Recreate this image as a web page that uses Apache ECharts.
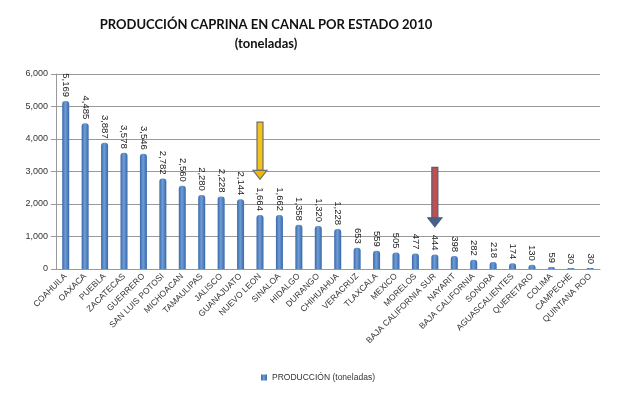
<!DOCTYPE html>
<html><head><meta charset="utf-8">
<script src="https://cdn.jsdelivr.net/npm/echarts@6/dist/echarts.min.js"></script>
<style>html,body{margin:0;padding:0;background:#fff}#c{width:628px;height:394px}</style>
</head><body><div id="c"></div>
<script>
const categories = ["COAHUILA","OAXACA","PUEBLA","ZACATECAS","GUERRERO","SAN LUIS POTOSI","MICHOACAN","TAMAULIPAS","JALISCO","GUANAJUATO","NUEVO LEON","SINALOA","HIDALGO","DURANGO","CHIHUAHUA","VERACRUZ","TLAXCALA","MEXICO","MORELOS","BAJA CALIFORNIA SUR","NAYARIT","BAJA CALIFORNIA","SONORA","AGUASCALIENTES","QUERETARO","COLIMA","CAMPECHE","QUINTANA ROO"];
const produccion = [5169,4485,3887,3578,3546,2782,2560,2280,2228,2144,1664,1662,1358,1320,1228,653,559,505,477,444,398,282,218,174,130,59,30,30];
const yTicks = [0,1000,2000,3000,4000,5000,6000];
// arrows: [category index, top value, tip value]
const arrowYellow = [[10, 4520, 2760]];
const arrowRed = [[19, 3130, 1300]];

const chart = echarts.init(document.getElementById('c'));
function arrowRender(fill, shaftFill, stroke){
  return function(params, api){
    const top = api.coord([api.value(0), api.value(1)]);
    const tip = api.coord([api.value(0), api.value(2)]);
    const x = top[0], y0 = top[1], y1 = tip[1];
    const sw = 3, hw = 7, hl = 9;
    return {type:'group', children:[
      {type:'polygon', shape:{points:[[x-sw,y0],[x+sw,y0],[x+sw,y1-hl],[x-sw,y1-hl]]}, style:{fill:shaftFill, stroke:stroke, lineWidth:1.2}},
      {type:'polygon', shape:{points:[[x-hw,y1-hl],[x+hw,y1-hl],[x,y1]]}, style:{fill:fill, stroke:stroke, lineWidth:1.2}}
    ]};
  };
}
chart.setOption({
  animation:false,
  title:{text:'PRODUCCIÓN CAPRINA EN CANAL POR ESTADO 2010\n(toneladas)', left:261, top:10, textAlign:'center',
    textStyle:{fontFamily:'Lato', fontWeight:'bold', fontSize:13, color:'#111', lineHeight:19}},
  legend:{data:['PRODUCCIÓN (toneladas)'], bottom:7, left:256, itemWidth:6, itemHeight:6, icon:'rect', itemGap:4,
    textStyle:{fontFamily:'Liberation Sans', fontSize:8.5, color:'#333'}},
  grid:{left:56, right:28, top:74, bottom:125},
  xAxis:{type:'category', data:categories,
    axisLine:{lineStyle:{color:'#999'}}, axisTick:{alignWithLabel:false, lineStyle:{color:'#999'}},
    axisLabel:{interval:0, rotate:45, fontSize:8.5, fontFamily:'Liberation Sans', color:'#333', margin:6}},
  yAxis:{type:'value', min:0, max:6000, interval:1000,
    axisLine:{show:true, lineStyle:{color:'#999'}}, axisTick:{show:true, lineStyle:{color:'#999'}},
    splitLine:{lineStyle:{color:'#999', width:1}},
    axisLabel:{fontSize:9, fontFamily:'Liberation Sans', color:'#333', margin:8,
      formatter:v=>v.toLocaleString('en-US')}},
  series:[
    {name:'PRODUCCIÓN (toneladas)', type:'bar', data:produccion, barWidth:7,
      itemStyle:{color:new echarts.graphic.LinearGradient(0,0,1,0,[{offset:0,color:'#3868A8'},{offset:0.45,color:'#6E9DD8'},{offset:1,color:'#3868A8'}]), borderRadius:[3,3,0,0]},
      label:{show:true, position:'top', rotate:-90, align:'right', verticalAlign:'middle', distance:4,
        fontSize:9.5, fontFamily:'Liberation Sans', color:'#222', formatter:p=>p.value.toLocaleString('en-US')}},
    {type:'custom', renderItem:arrowRender('#F2B705','#F2C318','#6F6F6F'), data:arrowYellow, z:10, silent:true, legendHoverLink:false},
    {type:'custom', renderItem:arrowRender('#4A5E88','#C0504D','#4A5E88'), data:arrowRed, z:10, silent:true, legendHoverLink:false}
  ]
});
</script></body></html>
